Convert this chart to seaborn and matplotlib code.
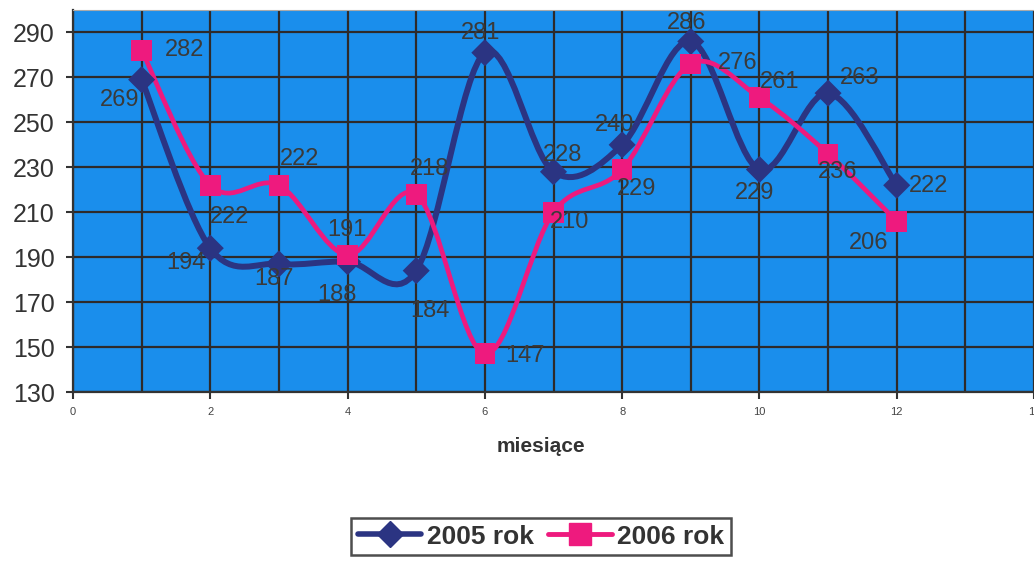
import numpy as np
import pandas as pd
import matplotlib.pyplot as plt
import seaborn as sns
from matplotlib.path import Path
from matplotlib.patches import PathPatch
from matplotlib.lines import Line2D
from matplotlib.ticker import MultipleLocator

# dane z wykresu
miesiace = [1, 2, 3, 4, 5, 6, 7, 8, 9, 10, 11, 12]
rok_2005 = [269, 194, 187, 188, 184, 281, 228, 240, 286, 229, 263, 222]
rok_2006 = [282, 222, 222, 191, 218, 147, 210, 229, 276, 261, 236, 206]
serie = ['2005 rok', '2006 rok']

# przesuniecia etykiet wartosci (piksele)
off_2005 = [(-22, -20), (-24, -15), (-5, -15), (-11, -33), (14, -40), (-4, 20),
            (9, 17), (-8, 20), (-4, 18), (-5, -23), (32, 15), (32, -1)]
off_2006 = [(43, 0), (19, -32), (21, 26), (-1, 25), (13, 25), (40, -2),
            (16, -10), (14, -19), (47, 1), (20, 16), (10, -18), (-28, -22)]

granat = '#2b3482'
roz = '#ee1a7e'
tlo = '#1a8eec'

sns.set_style('white')
plt.rcParams['font.family'] = ['Liberation Sans', 'DejaVu Sans']

df = pd.DataFrame({
    'miesiac': miesiace * 2,
    'wartosc': rok_2005 + rok_2006,
    'rok': [serie[0]] * 12 + [serie[1]] * 12,
})


def gladka(x, y):
    # linia wygladzona jak w Excelu (krzywe Beziera przez punkty)
    p = np.column_stack([x, y]).astype(float)
    verts = [p[0]]
    codes = [Path.MOVETO]
    n = len(p)
    for i in range(n - 1):
        p0 = p[i - 1] if i > 0 else p[i]
        p3 = p[i + 2] if i + 2 < n else p[i + 1]
        verts += [p[i] + (p[i + 1] - p0) / 6, p[i + 1] - (p3 - p[i]) / 6, p[i + 1]]
        codes += [Path.CURVE4] * 3
    return Path(verts, codes)


fig = plt.figure(figsize=(10.34, 5.62), dpi=100)
ax = fig.add_axes([73 / 1034, 1 - 392 / 562, 961 / 1034, 382 / 562])
ax.set_facecolor(tlo)

ax.add_patch(PathPatch(gladka(miesiace, rok_2005), fill=False, edgecolor=granat, lw=4.3, zorder=3))
ax.add_patch(PathPatch(gladka(miesiace, rok_2006), fill=False, edgecolor=roz, lw=3.4, zorder=4))

d05 = df[df['rok'] == serie[0]]
d06 = df[df['rok'] == serie[1]]
sns.scatterplot(data=d05, x='miesiac', y='wartosc', marker='D', s=190, color=granat,
                edgecolor='none', ax=ax, zorder=5, legend=False)
sns.scatterplot(data=d06, x='miesiac', y='wartosc', marker='s', s=220, color=roz,
                edgecolor='none', ax=ax, zorder=6, legend=False)

for seria, off in [(d05, off_2005), (d06, off_2006)]:
    for (x, v), o in zip(zip(seria['miesiac'], seria['wartosc']), off):
        ax.annotate(str(v), (x, v), xytext=o, textcoords='offset pixels',
                    ha='center', va='center', fontsize=17, color='#3a3a3a', zorder=7)

ax.set_xlim(0, 961 / 69.3)
ax.set_ylim(130, 300)
ax.set_yticks(range(130, 291, 20))
ax.set_xticks(range(0, 15, 2))
ax.xaxis.set_minor_locator(MultipleLocator(1))
ax.set_axisbelow(True)
ax.grid(True, axis='y', which='major', color='#2e2a2a', lw=1.6)
ax.grid(True, axis='x', which='both', color='#2e2a2a', lw=1.6)

ax.tick_params(axis='y', labelsize=18, length=5, width=1.5, color='#333333',
               labelcolor='#333333', pad=8, left=True)
ax.tick_params(axis='x', which='major', labelsize=8, length=5, width=1.5,
               color='#333333', labelcolor='#444444', pad=6, bottom=True)
ax.tick_params(axis='x', which='minor', length=0)

for s in ['left', 'bottom']:
    ax.spines[s].set_color('#333333')
    ax.spines[s].set_linewidth(1.6)
ax.spines['top'].set_color('#aaaaaa')
ax.spines['top'].set_linewidth(0.8)
ax.spines['right'].set_visible(False)

ax.set_xlabel('miesiące', fontsize=15, fontweight='bold', color='#333333',
              labelpad=14, x=(541 - 73) / 961)
ax.set_ylabel('')

uchwyty = [Line2D([], [], color=granat, lw=4, marker='D', markersize=13),
           Line2D([], [], color=roz, lw=3.5, marker='s', markersize=16)]
leg = fig.legend(uchwyty, serie, loc='upper center', bbox_to_anchor=(541 / 1034, 1 - 518 / 562),
                 ncol=2, frameon=True, fancybox=False, edgecolor='#222222',
                 prop={'weight': 'bold', 'size': 19}, handlelength=2.4,
                 columnspacing=0.55, handletextpad=0.2, borderpad=0.25, borderaxespad=0)
leg.get_frame().set_linewidth(1.8)
for t in leg.get_texts():
    t.set_color('#333333')

fig.savefig('out.png', dpi=100)
